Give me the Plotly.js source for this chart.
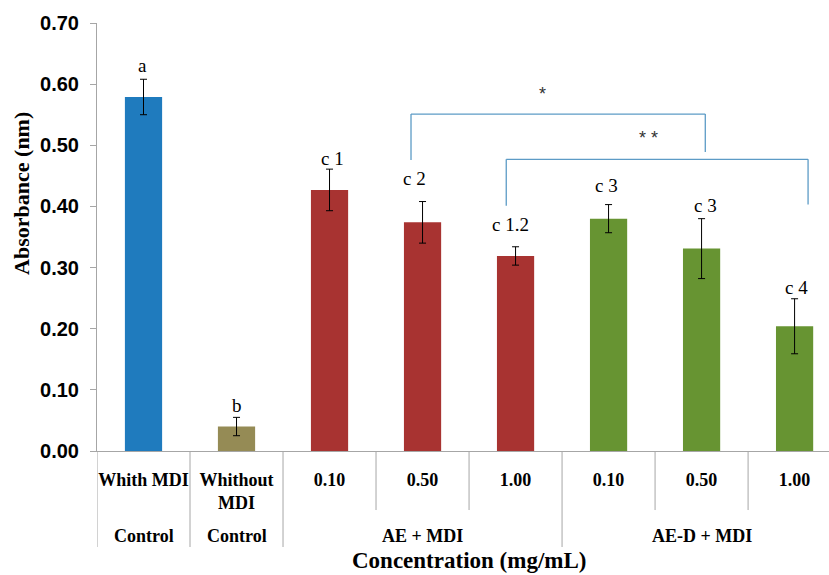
<!DOCTYPE html>
<html>
<head>
<meta charset="utf-8">
<script src="https://cdn.plot.ly/plotly-3.0.1.min.js"></script>
<style>html,body{margin:0;padding:0;background:#fff;}#chart{width:829px;height:575px;}</style>
</head>
<body>
<div id="chart"></div>
<script>
// ---- data ----
var subLabels = ["Whith MDI", "Whithout<br>MDI", "0.10", "0.50", "1.00", "0.10", "0.50", "1.00"];
var groupLabels = ["Control", "Control", "AE + MDI", "AE-D + MDI"];
var groupSpans = [[0, 0], [1, 1], [2, 4], [5, 7]];
var values = [0.579, 0.040, 0.427, 0.374, 0.319, 0.380, 0.331, 0.204];
var errors = [0.029, 0.015, 0.034, 0.034, 0.015, 0.023, 0.049, 0.045];
var letters = ["a", "b", "c 1", "c 2", "c 1.2", "c 3", "c 3", "c 4"];
var yTicks = [0, 0.1, 0.2, 0.3, 0.4, 0.5, 0.6, 0.7];
var xTitle = "Concentration (mg/mL)";
var yTitle = "Absorbance (nm)";

// ---- styling ----
var barColors = ["#1F7BBE", "#958B55", "#A83331", "#A83331", "#A83331", "#679432", "#679432", "#679432"];
var letterShiftY = [14, 12, 11, 23, 22, 19, 13, 11];
var letterShiftX = [-1, 0, 3, -8, -5, -2, 4, 2];
var serif = "Liberation Serif";
var bracketColor = "#5C9BC6";
var idx = values.map(function (_, i) { return i; });

var trace = {
  type: "bar",
  x: idx,
  y: values,
  width: 0.4,
  marker: { color: barColors },
  error_y: { type: "data", array: errors, visible: true, color: "#000", thickness: 1, width: 3.5 },
  hoverinfo: "skip"
};

var annotations = [];
letters.forEach(function (t, i) {
  annotations.push({
    x: i, y: values[i] + errors[i], xref: "x", yref: "y",
    text: t, showarrow: false, yanchor: "middle", xanchor: "center",
    yshift: letterShiftY[i], xshift: letterShiftX[i],
    font: { family: serif, size: 19, color: "#000" }
  });
});
// group labels
groupLabels.forEach(function (g, k) {
  var c = (groupSpans[k][0] + groupSpans[k][1]) / 2;
  annotations.push({
    x: c, y: -0.1995, xref: "x", yref: "paper", text: g, showarrow: false,
    yanchor: "middle", xanchor: "center",
    font: { family: serif, size: 18, color: "#000", weight: "bold" }
  });
});
// axis titles
annotations.push({ x: 3.5, y: -0.2547, xref: "x", yref: "paper", text: xTitle, showarrow: false,
  yanchor: "middle", xanchor: "center",
  font: { family: serif, size: 23, color: "#000", weight: "bold" } });
annotations.push({ x: -0.1025, y: 0.603, xref: "paper", yref: "paper", text: yTitle, showarrow: false,
  textangle: -90, yanchor: "middle", xanchor: "center",
  font: { family: serif, size: 22, color: "#000", weight: "bold" } });
// significance marks
annotations.push({ x: 4.285, y: 0.584, xref: "x", yref: "y", text: "*", showarrow: false,
  font: { family: "Liberation Sans", size: 18, color: "#333" } });
annotations.push({ x: 5.43, y: 0.512, xref: "x", yref: "y", text: "* *", showarrow: false,
  font: { family: "Liberation Sans", size: 18, color: "#333" } });

var shapes = [];
function vline(x, y0, y1, yref) {
  shapes.push({ type: "line", xref: "x", yref: yref, x0: x, x1: x, y0: y0, y1: y1,
    line: { color: "#A6A6A6", width: 1 } });
}
// dividers below axis (group boundaries long, inner short)
var longDiv = [-0.5, 0.5, 1.5, 4.5];
var shortDiv = [2.5, 3.5, 5.5, 6.5];
longDiv.forEach(function (x) { vline(x, 0, -0.2243, "paper"); });
shortDiv.forEach(function (x) { vline(x, 0, -0.1379, "paper"); });

function bracket(xl, xr, yTop, yl, yr) {
  var ln = { color: bracketColor, width: 1.3 };
  shapes.push({ type: "line", xref: "x", yref: "y", x0: xl, x1: xl, y0: yl, y1: yTop, line: ln });
  shapes.push({ type: "line", xref: "x", yref: "y", x0: xl, x1: xr, y0: yTop, y1: yTop, line: ln });
  shapes.push({ type: "line", xref: "x", yref: "y", x0: xr, x1: xr, y0: yTop, y1: yr, line: ln });
}
bracket(2.876, 6.04, 0.551, 0.476, 0.489);
bracket(3.90, 7.145, 0.477, 0.401, 0.403);

var layout = {
  width: 829, height: 575,
  margin: { l: 97, r: 0, t: 23, b: 124 },
  paper_bgcolor: "#fff", plot_bgcolor: "#fff",
  showlegend: false,
  bargap: 0.6,
  xaxis: {
    range: [-0.5, 7.37], tickvals: idx, ticktext: subLabels,
    showline: true, linecolor: "#A6A6A6", linewidth: 1, ticks: "", showgrid: false, zeroline: false,
    tickfont: { family: serif, size: 18, color: "#000", weight: "bold" },
    ticklabelstandoff: 12,
    fixedrange: true
  },
  yaxis: {
    range: [0, 0.7], tickvals: yTicks, tickformat: ".2f",
    showline: true, linecolor: "#A6A6A6", linewidth: 1, ticks: "outside", ticklen: 6, tickcolor: "#A6A6A6",
    showgrid: false, zeroline: false,
    ticklabelstandoff: 7,
    tickfont: { family: "Liberation Sans", size: 20, color: "#000", weight: "bold" }
  },
  annotations: annotations,
  shapes: shapes
};

Plotly.newPlot("chart", [trace], layout, { displayModeBar: false, staticPlot: true });
</script>
</body>
</html>
